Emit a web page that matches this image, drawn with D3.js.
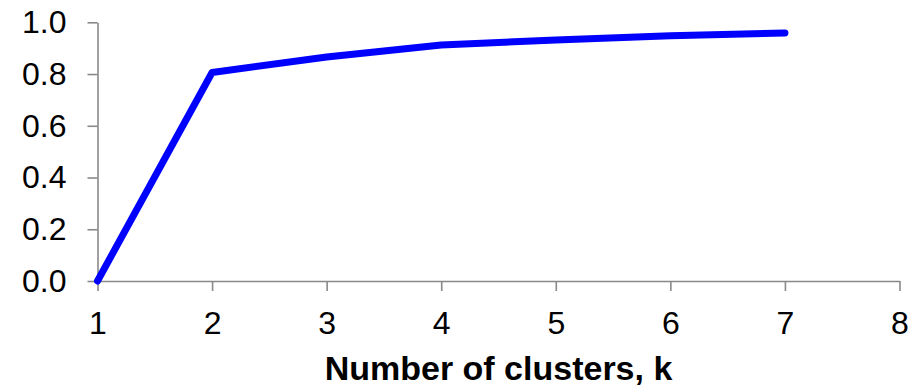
<!DOCTYPE html>
<html>
<head>
<meta charset="utf-8">
<script src="https://cdn.jsdelivr.net/npm/d3@7"></script>
<style>
  html, body { margin: 0; padding: 0; background: #fff; }
  svg { display: block; }
  text { font-family: "Liberation Sans", Arial, sans-serif; fill: #000; }
</style>
</head>
<body>
<svg id="chart" width="912" height="388"></svg>
<script>
const kValues = [1, 2, 3, 4, 5, 6, 7];
const scoreValues = [0, 0.806, 0.866, 0.912, 0.932, 0.948, 0.959];
const xTicks = [1, 2, 3, 4, 5, 6, 7, 8];
const yTicks = [0, 0.2, 0.4, 0.6, 0.8, 1.0];
const xTitle = "Number of clusters, k";

const svg = d3.select("#chart");
const x = d3.scaleLinear().domain([1, 8]).range([97.5, 899.5]);
const y = d3.scaleLinear().domain([0, 1]).range([281, 22.3]);

const axisColor = "#898989";

const gx = svg.append("g").attr("transform", `translate(0,${y(0)})`)
  .call(d3.axisBottom(x).tickValues(xTicks).tickFormat(d3.format("d")).tickSize(10).tickSizeOuter(0).tickPadding(20));
const gy = svg.append("g").attr("transform", `translate(${x(1)},0)`)
  .call(d3.axisLeft(y).tickValues(yTicks).tickFormat(d3.format(".1f")).tickSize(10).tickSizeOuter(0).tickPadding(21));

[gx, gy].forEach(g => {
  g.select(".domain").attr("stroke", axisColor).attr("stroke-width", 1.6);
  g.selectAll(".tick line").attr("stroke", axisColor).attr("stroke-width", 1.6);
  g.selectAll(".tick text").attr("font-size", 32).attr("font-family", "'Liberation Sans', Arial, sans-serif").attr("fill", "#000");
});

svg.append("text")
  .attr("x", (x(1) + x(8)) / 2)
  .attr("y", 380)
  .attr("text-anchor", "middle")
  .attr("font-size", 34)
  .attr("font-weight", "bold")
  .text(xTitle);

const line = d3.line().x((d, i) => x(kValues[i])).y(d => y(d));
svg.append("path")
  .datum(scoreValues)
  .attr("d", line)
  .attr("fill", "none")
  .attr("stroke", "#0000ff")
  .attr("stroke-width", 7)
  .attr("stroke-linecap", "round")
  .attr("stroke-linejoin", "round");
</script>
</body>
</html>
